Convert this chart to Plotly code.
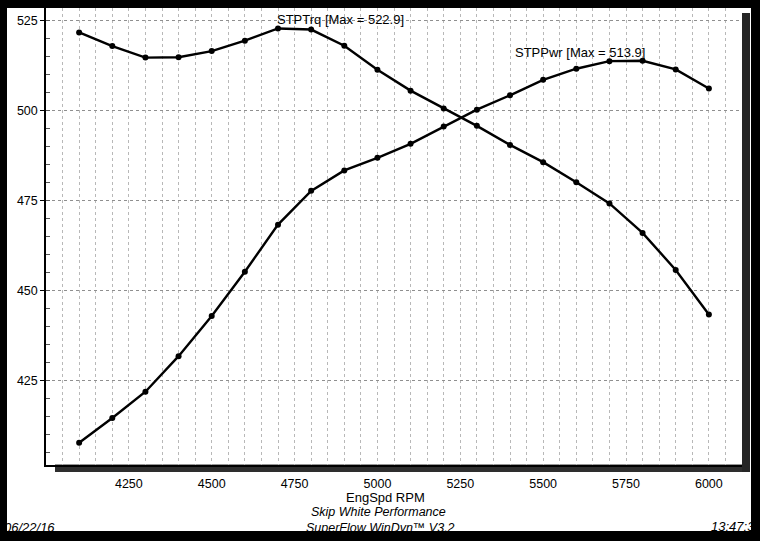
import plotly.graph_objects as go

rpm = [4100, 4200, 4300, 4400, 4500, 4600, 4700, 4800, 4900, 5000,
       5100, 5200, 5300, 5400, 5500, 5600, 5700, 5800, 5900, 6000]
torque = [521.8, 518.0, 514.8, 514.9, 516.6, 519.5, 522.9, 522.6, 518.1, 511.4,
          505.6, 500.6, 495.8, 490.5, 485.7, 480.1, 474.2, 466.0, 455.7, 443.3]
power = [407.6, 414.5, 421.8, 431.7, 442.9, 455.2, 468.3, 477.7, 483.4, 486.9,
         490.8, 495.6, 500.3, 504.3, 508.6, 511.7, 513.8, 513.9, 511.5, 506.2]
x_ticks = [4250, 4500, 4750, 5000, 5250, 5500, 5750, 6000]
y_ticks = [425, 450, 475, 500, 525]
trq_label = "STPTrq [Max = 522.9]"
pwr_label = "STPPwr [Max = 513.9]"

FONT = "Liberation Sans, Arial, sans-serif"

fig = go.Figure()
for name, vals in (("STPTrq", torque), ("STPPwr", power)):
    fig.add_trace(go.Scatter(
        x=rpm, y=vals, mode="lines+markers", name=name,
        line=dict(color="black", width=2.4),
        marker=dict(color="black", size=6),
        showlegend=False, hoverinfo="x+y",
    ))

fig.update_layout(
    width=760, height=541,
    margin=dict(l=46, r=18, t=8, b=76, autoexpand=False),
    paper_bgcolor="black",
    plot_bgcolor="white",
    font=dict(family=FONT, size=12.5, color="black"),
    xaxis=dict(
        range=[4000, 6100], tickvals=x_ticks, automargin=False,
        ticks="outside", ticklen=6, tickcolor="rgba(0,0,0,0)",
        showgrid=True, gridcolor="#b8b8b8", griddash="dot", gridwidth=1,
        minor=dict(dtick=50, tick0=4000, showgrid=True, gridcolor="#b8b8b8",
                   griddash="dot", gridwidth=1),
        showline=True, linecolor="black", linewidth=1.5,
        zeroline=False, tickfont=dict(size=12.5),
    ),
    yaxis=dict(
        range=[401.4, 528.6], tickvals=y_ticks, automargin=False,
        ticks="outside", ticklen=4, tickcolor="black",
        showgrid=True, gridcolor="#8f8f8f", griddash="dot", gridwidth=1,
        minor=dict(dtick=5, tick0=400, ticks="inside", ticklen=4,
                   tickcolor="#555", showgrid=False),
        showline=True, linecolor="black", linewidth=1.5,
        zeroline=False, tickfont=dict(size=12.5),
    ),
)

def px(x):
    return (x - 46) / 696.0

def py(y):
    return (465 - y) / 457.0

# white page
fig.add_shape(type="rect", xref="paper", yref="paper", layer="below",
              x0=px(7), x1=px(751), y0=py(531), y1=py(8),
              fillcolor="white", line=dict(width=0))
# drop shadow bottom
fig.add_shape(type="rect", xref="paper", yref="paper", layer="below",
              x0=px(55), x1=px(750), y0=py(472), y1=py(464.5),
              fillcolor="#2e2e2e", line=dict(width=0))
# drop shadow right
fig.add_shape(type="rect", xref="paper", yref="paper", layer="below",
              x0=px(742), x1=px(750), y0=py(472), y1=py(13),
              fillcolor="#262626", line=dict(width=0))

fig.add_annotation(x=4690, y=525.3, xref="x", yref="y", text=trq_label,
                   showarrow=False, xanchor="left", yanchor="middle",
                   font=dict(size=13))
fig.add_annotation(x=5410, y=516.1, xref="x", yref="y", text=pwr_label,
                   showarrow=False, xanchor="left", yanchor="middle",
                   font=dict(size=13))

def note(text, x, y, anchor="center", italic=False, size=12.5):
    fig.add_annotation(x=px(x), y=py(y), xref="paper", yref="paper",
                       text=("<i>%s</i>" % text) if italic else text,
                       showarrow=False, xanchor=anchor, yanchor="middle",
                       font=dict(size=size))

note("EngSpd RPM", 385, 497, size=13)
note("Skip White Performance", 378, 512, italic=True, size=12.5)
note("SuperFlow WinDyn™ V3.2", 380, 528, italic=True, size=12.5)
note("06/22/16", 2, 527, anchor="left", italic=True, size=13)
note("13:47:3", 709, 526, anchor="left", italic=True, size=13)

fig.write_html(
    "out.html",
    config={"displayModeBar": False},
    post_script="document.body.style.margin='0';document.body.style.background='black';",
)
